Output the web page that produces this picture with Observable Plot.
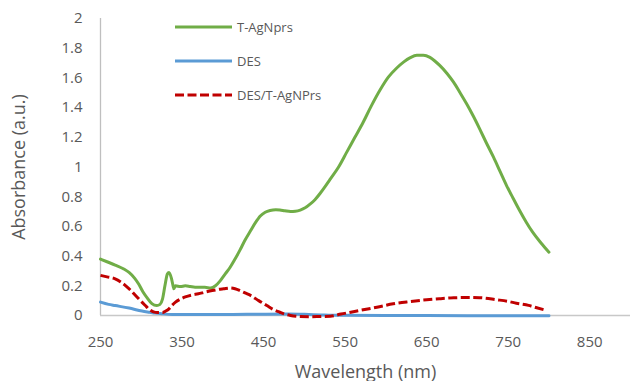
<!DOCTYPE html>
<html><head><meta charset="utf-8">
<script src="https://cdn.jsdelivr.net/npm/d3@7"></script>
<script src="https://cdn.jsdelivr.net/npm/@observablehq/plot@0.6"></script>
<style>
body{margin:0;background:#fff;}
#wrap{position:relative;width:630px;height:381px;font-family:"Open Sans",sans-serif;overflow:hidden;}
#legend{position:absolute;left:175px;top:0;}
.item{position:absolute;left:0;height:18px;display:flex;align-items:center;white-space:nowrap;font-size:13px;color:#595959;}
.item svg{margin-right:5px;}
g[aria-label="x-axis label"], g[aria-label="y-axis label"]{font-size:18px;}
</style></head><body><div id="wrap"><div id="legend"></div></div>
<script>
// T-AgNprs
const wlT = [250,258,268,278,285,292,297,302,307,313,319,323,326,329,332,334,337,339,340,342,348,354,360,366,372,378,385,391,397,403,409,415,421,427,434,440,446,452,458,465,470,476,483,489,495,501,507,513,519,525,532,542,552,562,572,582,593,603,613,622,630,638,646,654,660,666,675,683,691,699,707,715,723,732,740,748,756,764,772,780,790,800];
const absT = [0.38,0.362,0.34,0.315,0.29,0.25,0.21,0.16,0.12,0.08,0.067,0.075,0.11,0.2,0.28,0.29,0.25,0.2,0.18,0.2,0.195,0.2,0.195,0.19,0.19,0.19,0.185,0.2,0.235,0.28,0.325,0.38,0.44,0.505,0.57,0.625,0.67,0.695,0.707,0.712,0.71,0.705,0.70,0.702,0.71,0.725,0.75,0.78,0.82,0.865,0.92,1.0,1.1,1.2,1.3,1.41,1.52,1.605,1.665,1.708,1.736,1.752,1.753,1.738,1.714,1.684,1.63,1.571,1.5,1.426,1.345,1.257,1.165,1.066,0.97,0.875,0.79,0.707,0.63,0.561,0.49,0.426];
// DES
const wlD = [250,260,268,285,301,310,317,325,338,350,400,450,480,500,520,540,600,700,800];
const absD = [0.09,0.075,0.067,0.05,0.03,0.022,0.016,0.012,0.007,0.006,0.006,0.009,0.01,0.008,0.004,0.001,0.0,-0.001,-0.002];
// DES/T-AgNPrs
const wlM = [250,258,268,275,281,287,293,299,305,310,315,320,326,330,334,338,342,348,354,362,370,378,387,395,401,409,415,422,428,434,444,454,462,470,477,483,495,507,519,532,545,557,568,589,609,630,650,666,683,700,715,736,750,760,775,785,797];
const absM = [0.27,0.26,0.247,0.225,0.2,0.17,0.135,0.1,0.067,0.04,0.025,0.02,0.02,0.03,0.045,0.07,0.09,0.11,0.125,0.138,0.146,0.157,0.168,0.176,0.18,0.185,0.18,0.165,0.15,0.135,0.1,0.067,0.04,0.022,0.008,0,-0.007,-0.008,-0.007,-0.005,0.01,0.022,0.034,0.056,0.079,0.094,0.106,0.113,0.119,0.121,0.12,0.106,0.095,0.083,0.068,0.052,0.034];

const xTicks = [250,350,450,550,650,750,850];
const yTicks = [0,0.2,0.4,0.6,0.8,1,1.2,1.4,1.6,1.8,2];
const seriesNames = ["T-AgNprs","DES","DES/T-AgNPrs"];
const seriesColors = ["#70ad47","#5b9bd5","#c00000"];
const seriesDash = [null,null,"9,3.5"];

const rows = (w,a) => w.map((v,i)=>({w:v,a:a[i]}));
const dataT = rows(wlT,absT), dataD = rows(wlD,absD), dataM = rows(wlM,absM);

const chart = Plot.plot({
  width:630, height:381,
  marginLeft:100, marginRight:0, marginTop:18, marginBottom:66,
  style:{fontFamily:'"Open Sans", sans-serif', fontSize:"15px", color:"#595959", background:"white", overflow:"visible"},
  x:{domain:[250,900]},
  y:{domain:[0,2]},
  marks:[
    Plot.axisX({ticks:xTicks, tickSize:0, tickPadding:21, tickFormat:d=>String(d), label:"Wavelength (nm)", labelAnchor:"center", labelArrow:"none", labelOffset:62, fill:"#595959", fontSize:15}),
    Plot.axisY({ticks:yTicks, tickSize:0, tickPadding:18, tickFormat:d=>String(d), label:"Absorbance (a.u.)", labelAnchor:"center", labelArrow:"none", labelOffset:88, fill:"#595959", fontSize:15}),
    Plot.ruleX([250], {stroke:"#bfbfbf", strokeWidth:1.3}),
    Plot.ruleY([0], {stroke:"#c8c8c8", strokeWidth:1.3}),
    Plot.line(dataT, {x:"w", y:"a", stroke:seriesColors[0], strokeWidth:3, curve:"monotone-x"}),
    Plot.line(dataD, {x:"w", y:"a", stroke:seriesColors[1], strokeWidth:3, curve:"monotone-x"}),
    Plot.line(dataM, {x:"w", y:"a", stroke:seriesColors[2], strokeWidth:3, strokeDasharray:seriesDash[2], strokeLinecap:"butt", curve:"monotone-x"})
  ]
});
const wrap = document.getElementById("wrap");
wrap.insertBefore(chart, wrap.firstChild);

const legend = document.getElementById("legend");
const centers = [27,61,95];
seriesNames.forEach((name,i)=>{
  const item = document.createElement("div");
  item.className = "item";
  item.style.top = (centers[i]-9)+"px";
  const dash = seriesDash[i] ? ` stroke-dasharray="${seriesDash[i]}"` : "";
  item.innerHTML = `<svg width="57" height="6"><line x1="0" y1="3" x2="57" y2="3" stroke="${seriesColors[i]}" stroke-width="3"${dash}/></svg><span>${name}</span>`;
  legend.appendChild(item);
});
</script>
</body></html>
